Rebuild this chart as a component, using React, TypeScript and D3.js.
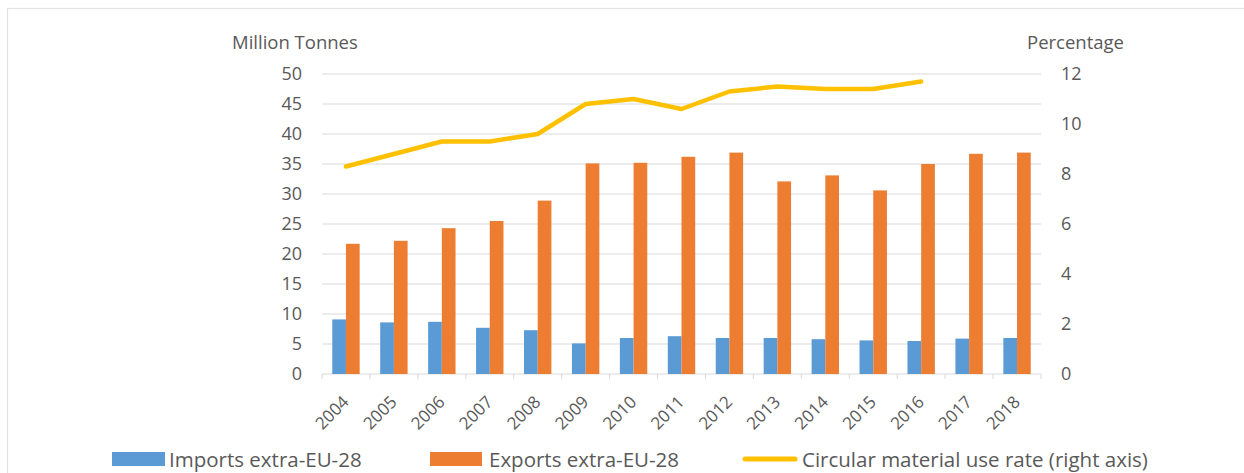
import React from "react";
import * as d3 from "d3";

const years = ["2004","2005","2006","2007","2008","2009","2010","2011","2012","2013","2014","2015","2016","2017","2018"];
const imports = [9.1, 8.6, 8.7, 7.7, 7.3, 5.1, 6.0, 6.3, 6.0, 6.0, 5.8, 5.6, 5.5, 5.9, 6.0];
const exports_ = [21.7, 22.2, 24.3, 25.5, 28.9, 35.1, 35.2, 36.2, 36.9, 32.1, 33.1, 30.6, 35.0, 36.7, 36.9];
const cmuYears = ["2004","2005","2006","2007","2008","2009","2010","2011","2012","2013","2014","2015","2016"];
const cmuRate = [8.3, 8.8, 9.3, 9.3, 9.6, 10.8, 11.0, 10.6, 11.3, 11.5, 11.4, 11.4, 11.7];
const leftTicks = [0, 5, 10, 15, 20, 25, 30, 35, 40, 45, 50];
const rightTicks = [0, 2, 4, 6, 8, 10, 12];
const seriesNames = ["Imports extra-EU-28", "Exports extra-EU-28", "Circular material use rate (right axis)"];

const FONT = "'Open Sans', Lato, sans-serif";
const TXT = "#595959";
const GRID = "#d9d9d9";
const BLUE = "#5B9BD5";
const ORANGE = "#ED7D31";
const YELLOW = "#FFC000";

export default function App() {
  const x0 = 322, x1 = 1041, yTop = 74, yBot = 374;
  const x = d3.scaleBand<string>().domain(years).range([x0, x1]).paddingInner(0).paddingOuter(0);
  const xs = d3.scaleBand<string>().domain(["imp", "exp"]).range([0, x.bandwidth()]).paddingInner(0).paddingOuter(0.75);
  const yL = d3.scaleLinear().domain([0, 50]).range([yBot, yTop]);
  const yR = d3.scaleLinear().domain([0, 12]).range([yBot, yTop]);
  const line = d3.line<number>()
    .x((_, i) => (x(cmuYears[i]) as number) + x.bandwidth() / 2)
    .y((d) => yR(d));
  const boundaries = years.map((y) => x(y) as number).concat([x1]);

  return (
    <svg width={1244} height={473} style={{ position: "absolute", left: 0, top: 0, background: "#fff" }} fontFamily={FONT}>
      <rect x={7.5} y={8.5} width={1400} height={600} fill="#fff" stroke="#e3e3e3" strokeWidth={1.2} />
      {leftTicks.map((t) => (
        <line key={"g" + t} x1={x0} x2={x1} y1={yL(t)} y2={yL(t)} stroke={GRID} strokeWidth={1} />
      ))}
      {boundaries.map((b, i) => (
        <line key={"t" + i} x1={b} x2={b} y1={yBot} y2={yBot + 5} stroke={GRID} strokeWidth={1} />
      ))}
      {years.map((yr, i) => (
        <g key={"b" + yr}>
          <rect x={(x(yr) as number) + (xs("imp") as number)} y={yL(imports[i])} width={xs.bandwidth()} height={yBot - yL(imports[i])} fill={BLUE} />
          <rect x={(x(yr) as number) + (xs("exp") as number)} y={yL(exports_[i])} width={xs.bandwidth()} height={yBot - yL(exports_[i])} fill={ORANGE} />
        </g>
      ))}
      <path d={line(cmuRate) || ""} fill="none" stroke={YELLOW} strokeWidth={4.5} strokeLinecap="round" strokeLinejoin="round" />
      {leftTicks.map((t) => (
        <text key={"l" + t} x={302} y={yL(t)} dy="0.36em" textAnchor="end" fontSize={18} fill={TXT}>{t}</text>
      ))}
      {rightTicks.map((t) => (
        <text key={"r" + t} x={1061} y={yR(t)} dy="0.36em" textAnchor="start" fontSize={18} fill={TXT}>{t}</text>
      ))}
      {years.map((yr) => (
        <text key={"x" + yr} transform={`translate(${(x(yr) as number) + x.bandwidth() / 2 + 4},${yBot + 29}) rotate(-45)`} textAnchor="end" fontSize={17} fill={TXT}>{yr}</text>
      ))}
      <text x={232} y={49} fontSize={18.5} fill={TXT}>Million Tonnes</text>
      <text x={1027} y={49} fontSize={18.5} fill={TXT}>Percentage</text>
      <rect x={112} y={452} width={53} height={14} fill={BLUE} />
      <text x={169} y={466.5} fontSize={20.5} fill={TXT}>{seriesNames[0]}</text>
      <rect x={430} y={452} width={52} height={14} fill={ORANGE} />
      <text x={489} y={466.5} fontSize={20.5} fill={TXT}>{seriesNames[1]}</text>
      <line x1={745} x2={795} y1={459} y2={459} stroke={YELLOW} strokeWidth={5} strokeLinecap="round" />
      <text x={802} y={466.5} fontSize={20.5} fill={TXT}>{seriesNames[2]}</text>
    </svg>
  );
}
